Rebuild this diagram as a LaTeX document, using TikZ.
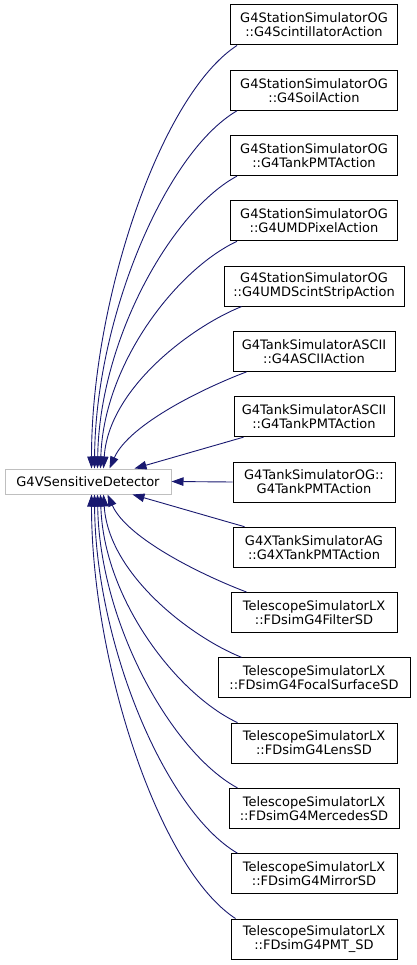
\documentclass[tikz,border=0pt]{standalone}
\usepackage{fontspec}
\setmainfont{DejaVu Sans}
\usetikzlibrary{arrows.meta}
\definecolor{edgeblue}{HTML}{191970}
\tikzset{
  cls/.style={draw=black, line width=1pt, fill=white, align=center, inner sep=2pt,
    minimum height=40pt, minimum width=166pt, font=\fontsize{13}{14}\selectfont},
  basecls/.style={draw=black!25, line width=1pt, fill=white, inner sep=2pt,
    minimum height=25pt, minimum width=166pt, font=\fontsize{13}{14}\selectfont},
  inh/.style={draw=edgeblue, line width=0.9pt, -{Triangle[length=12pt,width=8.5pt]}}
}
\begin{document}
\begin{tikzpicture}[x=1pt,y=-1pt]
\useasboundingbox (0,0) rectangle (416,965);
\node[basecls] (base) at (88,481.5) {G4VSensitiveDetector};
\node[cls, minimum width=167pt] (c1) at (314,25) {G4StationSimulatorOG\\::G4ScintillatorAction};
\node[cls, minimum width=167pt] (c2) at (314,90.3) {G4StationSimulatorOG\\::G4SoilAction};
\node[cls, minimum width=167pt] (c3) at (314,155.6) {G4StationSimulatorOG\\::G4TankPMTAction};
\node[cls, minimum width=167pt] (c4) at (314,220.8) {G4StationSimulatorOG\\::G4UMDPixelAction};
\node[cls, minimum width=180pt] (c5) at (314,286.1) {G4StationSimulatorOG\\::G4UMDScintStripAction};
\node[cls, minimum width=162pt] (c6) at (314,351.4) {G4TankSimulatorASCII\\::G4ASCIIAction};
\node[cls, minimum width=160pt] (c7) at (314,416.7) {G4TankSimulatorASCII\\::G4TankPMTAction};
\node[cls, minimum width=162pt] (c8) at (314,482) {G4TankSimulatorOG::\\G4TankPMTAction};
\node[cls, minimum width=162pt] (c9) at (314,547.2) {G4XTankSimulatorAG\\::G4XTankPMTAction};
\node[cls, minimum width=166pt] (c10) at (314,612.5) {TelescopeSimulatorLX\\::FDsimG4FilterSD};
\node[cls, minimum width=192pt] (c11) at (314,677.8) {TelescopeSimulatorLX\\::FDsimG4FocalSurfaceSD};
\node[cls, minimum width=166pt] (c12) at (314,743.1) {TelescopeSimulatorLX\\::FDsimG4LensSD};
\node[cls, minimum width=170pt] (c13) at (314,808.4) {TelescopeSimulatorLX\\::FDsimG4MercedesSD};
\node[cls, minimum width=166pt] (c14) at (314,873.7) {TelescopeSimulatorLX\\::FDsimG4MirrorSD};
\node[cls, minimum width=166pt] (c15) at (314,939) {TelescopeSimulatorLX\\::FDsimG4PMT\_SD};
% upper group
\draw[inh] ([xshift=7pt]c1.south west) .. controls +(-77,50) and +(0,-167) .. ([xshift=87pt]base.north west);
\draw[inh] ([xshift=7pt]c2.south west) .. controls +(-72,42) and +(1,-150) .. ([xshift=90pt]base.north west);
\draw[inh] ([xshift=7pt]c3.south west) .. controls +(-65,35) and +(2,-130) .. ([xshift=93pt]base.north west);
\draw[inh] ([xshift=7pt]c4.south west) .. controls +(-60,28) and +(3,-105) .. ([xshift=96pt]base.north west);
\draw[inh] ([xshift=18pt]c5.south west) .. controls +(-50,20) and +(5,-80) .. ([xshift=99pt]base.north west);
\draw[inh] ([xshift=14pt]c6.south west) .. controls +(-40,15) and +(20,-45) .. ([xshift=105pt]base.north west);
\draw[inh] ([xshift=10pt]c7.south west) .. controls +(-35,10) and +(35,-10) .. ([xshift=130pt]base.north west);
% middle
\draw[inh] (c8.west) -- (base.east);
% lower group
\draw[inh] ([xshift=12pt]c9.north west) .. controls +(-35,-10) and +(35,10) .. ([xshift=128pt]base.south west);
\draw[inh] ([xshift=16pt]c10.north west) .. controls +(-40,-15) and +(20,45) .. ([xshift=103pt]base.south west);
\draw[inh] ([xshift=24pt]c11.north west) .. controls +(-50,-20) and +(5,80) .. ([xshift=99pt]base.south west);
\draw[inh] ([xshift=7pt]c12.north west) .. controls +(-60,-28) and +(3,105) .. ([xshift=96pt]base.south west);
\draw[inh] ([xshift=9pt]c13.north west) .. controls +(-65,-35) and +(2,130) .. ([xshift=93pt]base.south west);
\draw[inh] ([xshift=7pt]c14.north west) .. controls +(-72,-42) and +(1,150) .. ([xshift=90pt]base.south west);
\draw[inh] ([xshift=5pt]c15.north west) .. controls +(-77,-50) and +(0,167) .. ([xshift=87pt]base.south west);
\end{tikzpicture}
\end{document}
